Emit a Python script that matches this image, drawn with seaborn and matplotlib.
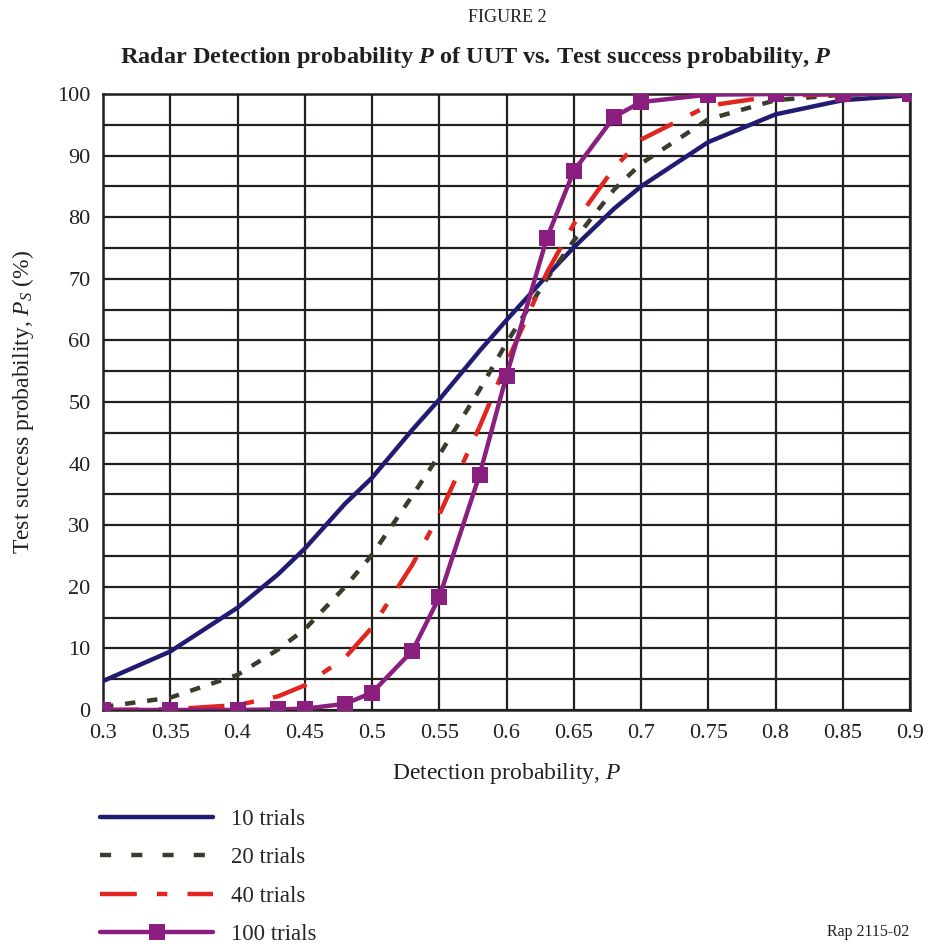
import matplotlib
matplotlib.use("Agg")
import matplotlib.pyplot as plt
from matplotlib.lines import Line2D
import pandas as pd
import seaborn as sns

# detection probability P of the UUT
detection_p = [0.3, 0.35, 0.4, 0.43, 0.45, 0.48, 0.5, 0.53, 0.55, 0.58,
               0.6, 0.63, 0.65, 0.68, 0.7, 0.75, 0.8, 0.85, 0.9]

# test success probability Ps (%)
success_10 = [4.7, 9.5, 16.6, 22.0, 26.2, 33.5, 37.7, 45.5, 50.4, 58.3,
              63.3, 70.5, 75.1, 81.4, 85.0, 92.2, 96.7, 99.0, 99.8]
success_20 = [0.5, 2.0, 5.7, 9.8, 13.1, 20.0, 25.2, 34.8, 41.4, 52.0,
              59.6, 70.0, 76.2, 84.5, 88.7, 95.9, 99.0, 99.9, 100.0]
success_40 = [0.0, 0.1, 0.8, 2.2, 4.0, 8.5, 13.4, 23.6, 31.7, 46.0,
              56.3, 71.0, 78.9, 88.0, 92.6, 98.1, 99.7, 100.0, 100.0]
success_100 = [0.0, 0.0, 0.0, 0.1, 0.2, 1.0, 2.8, 9.6, 18.3, 38.2,
               54.3, 76.6, 87.5, 96.3, 98.7, 99.9, 100.0, 100.0, 100.0]

series_labels = ["10 trials", "20 trials", "40 trials", "100 trials"]
x_ticks = [0.3, 0.35, 0.4, 0.45, 0.5, 0.55, 0.6, 0.65, 0.7, 0.75, 0.8, 0.85, 0.9]
y_ticks = [0, 10, 20, 30, 40, 50, 60, 70, 80, 90, 100]
y_minor = [5, 15, 25, 35, 45, 55, 65, 75, 85, 95]

df = pd.DataFrame({"P": detection_p})
df[series_labels[0]] = success_10
df[series_labels[1]] = success_20
df[series_labels[2]] = success_40
df[series_labels[3]] = success_100

sns.set_theme(style="white")
plt.rcParams["font.family"] = ["Liberation Serif", "DejaVu Serif"]
plt.rcParams["mathtext.fontset"] = "custom"
plt.rcParams["mathtext.rm"] = "Liberation Serif"
plt.rcParams["mathtext.it"] = "Liberation Serif:italic"
plt.rcParams["mathtext.bf"] = "Liberation Serif:bold"
plt.rcParams["mathtext.bfit"] = "Liberation Serif:italic:bold"
plt.rcParams["lines.scale_dashes"] = False

ink = "#231f20"
colors = ["#221b72", "#3c3c2e", "#e2261f", "#8b1f80"]

fig = plt.figure(figsize=(9.3, 9.47), dpi=100)
ax = fig.add_axes([0.1108, 0.2503, 0.8677, 0.6504])

styles = {
    "10 trials": dict(linestyle="-"),
    "20 trials": dict(linestyle=(0, (7.5, 8.5))),
    "40 trials": dict(linestyle=(0, (26, 14, 7.5, 14))),
    "100 trials": dict(linestyle="-", marker="s", markersize=11,
                       markeredgecolor=colors[3], markeredgewidth=0),
}

for name, col in zip(series_labels, colors):
    sns.lineplot(data=df, x="P", y=name, ax=ax, color=col, linewidth=3.2,
                 zorder=3, **styles[name])

ax.set_xlim(0.3, 0.9)
ax.set_ylim(0, 100)
ax.set_xticks(x_ticks)
ax.set_xticklabels([f"{v:g}" for v in x_ticks])
ax.set_yticks(y_ticks)
ax.set_yticks(y_minor, minor=True)
ax.grid(True, which="both", color=ink, linewidth=1.6, zorder=1)
ax.tick_params(which="both", length=0, labelsize=16, colors=ink)
ax.tick_params(axis="x", pad=10)
ax.tick_params(axis="y", pad=9)
for spine in ax.spines.values():
    spine.set_color(ink)
    spine.set_linewidth(1.8)

ax.set_xlabel("Detection probability, $\\mathit{P}$", fontsize=17, labelpad=13,
              color=ink)
ax.set_ylabel("Test success probability, $\\mathit{P_S}$ (%)", fontsize=17,
              labelpad=15, color=ink)

fig.text(0.545, 0.982, "FIGURE 2", ha="center", va="center", fontsize=13,
         color=ink)
fig.text(0.512, 0.939,
         "Radar Detection probability $\\mathbfit{P}$ of UUT vs. Test success probability, $\\mathbfit{P}$",
         ha="center", va="center", fontsize=17.5, fontweight="bold", color=ink)

# legend keys drawn with the same colours, key dash rhythm as in the original
legend_keys = [
    Line2D([], [], color=colors[0], linewidth=3.2),
    Line2D([], [], color=colors[1], linewidth=3.2, linestyle=(0, (8, 14.5))),
    Line2D([], [], color=colors[2], linewidth=3.2, linestyle=(0, (26.5, 14.5, 7.5, 14.5))),
    Line2D([], [], color=colors[3], linewidth=3.2, marker="s", markersize=11,
           markeredgewidth=0),
]
fig.legend(legend_keys, series_labels, loc="upper left", bbox_to_anchor=(0.108, 0.146),
           frameon=False, fontsize=16.5, handlelength=4.9, handletextpad=0.8,
           labelspacing=0.76, borderpad=0, borderaxespad=0)

fig.text(0.978, 0.016, "Rap 2115-02", ha="right", va="center", fontsize=11.5,
         color=ink)

fig.savefig("out.png", dpi=100)
